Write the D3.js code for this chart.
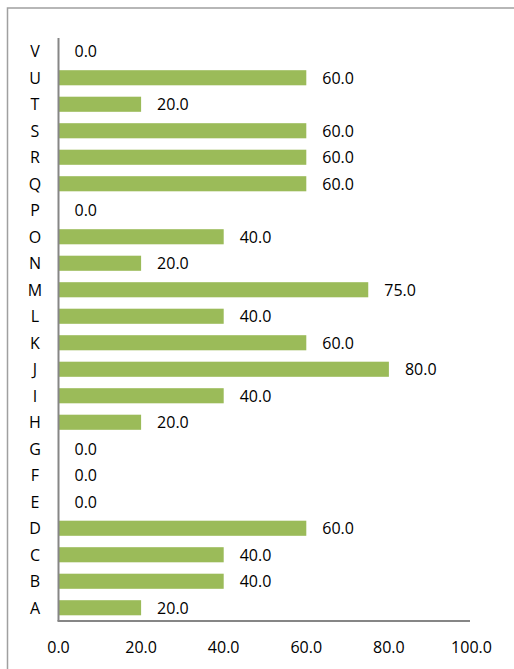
<!DOCTYPE html>
<html>
<head>
<meta charset="utf-8">
<script src="https://cdn.jsdelivr.net/npm/d3@7"></script>
<style>
  html, body { margin: 0; padding: 0; background: #fff; overflow: hidden; }
  svg { display: block; }
  text { font-family: "Open Sans", sans-serif; font-size: 16px; fill: #000; }
</style>
</head>
<body>
<svg id="chart" width="514" height="669"></svg>
<script>
// Categories listed bottom-to-top as they appear on the axis
const categories = ["A","B","C","D","E","F","G","H","I","J","K","L","M","N","O","P","Q","R","S","T","U","V"];
const values     = [20, 40, 40, 60, 0, 0, 0, 20, 40, 80, 60, 40, 75, 20, 40, 0, 60, 60, 60, 20, 60, 0];
const xTicks     = [0, 20, 40, 60, 80, 100];

const data = categories.map((c, i) => ({ cat: c, val: values[i] }));

const svg = d3.select("#chart");
const plotLeft = 58.5, plotRight = 471.5, plotTop = 38, plotBottom = 621;

// outer frame (runs past the right and bottom edges of the view)
svg.append("rect")
  .attr("x", 7.5).attr("y", 8)
  .attr("width", 520).attr("height", 680)
  .attr("fill", "none").attr("stroke", "#a0a0a0").attr("stroke-width", 1.5);

const x = d3.scaleLinear().domain([0, 100]).range([plotLeft, plotRight]);
const y = d3.scaleBand()
  .domain(categories.slice().reverse())
  .range([plotTop, plotBottom])
  .paddingInner(0.43).paddingOuter(0.215);

// bars
svg.append("g").selectAll("rect")
  .data(data).join("rect")
  .attr("x", x(0))
  .attr("y", d => y(d.cat))
  .attr("width", d => x(d.val) - x(0))
  .attr("height", y.bandwidth())
  .attr("fill", "#9bbb59");

// value labels
svg.append("g").selectAll("text")
  .data(data).join("text")
  .attr("x", d => x(d.val) + 16)
  .attr("y", d => y(d.cat) + y.bandwidth() / 2)
  .attr("dy", "0.36em")
  .text(d => d.val.toFixed(1));

// category labels
svg.append("g").selectAll("text")
  .data(data).join("text")
  .attr("x", 35)
  .attr("y", d => y(d.cat) + y.bandwidth() / 2)
  .attr("dy", "0.36em")
  .attr("text-anchor", "middle")
  .text(d => d.cat);

// x axis tick labels
svg.append("g").selectAll("text")
  .data(xTicks).join("text")
  .attr("x", d => x(d))
  .attr("y", 647)
  .attr("dy", "0.36em")
  .attr("text-anchor", "middle")
  .text(d => d.toFixed(1));

// axis lines
svg.append("line")
  .attr("x1", plotLeft).attr("x2", plotLeft)
  .attr("y1", plotTop).attr("y2", plotBottom)
  .attr("stroke", "#868686").attr("stroke-width", 2);
svg.append("line")
  .attr("x1", plotLeft - 1).attr("x2", 470)
  .attr("y1", plotBottom).attr("y2", plotBottom)
  .attr("stroke", "#868686").attr("stroke-width", 2);
</script>
</body>
</html>
